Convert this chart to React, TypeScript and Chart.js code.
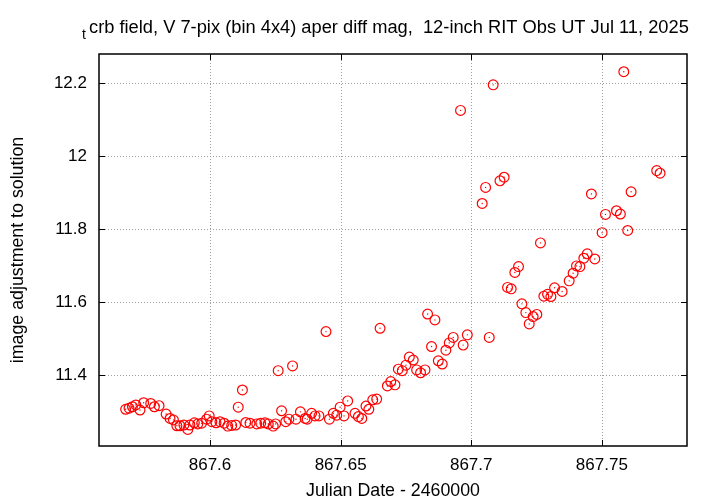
import React, { useEffect, useRef } from "react";
import { Chart, registerables } from "chart.js";

Chart.register(...registerables);

// Julian Date - 2460000
const JD = [
  867.5677, 867.5690, 867.5703, 867.5716, 867.5732, 867.5746, 867.5773, 867.5787, 867.5805, 867.5832,
  867.5847, 867.5860, 867.5873, 867.5885, 867.5900, 867.5915, 867.5923, 867.5940, 867.5953, 867.5968,
  867.5987, 867.5997, 867.6007, 867.6023, 867.6038, 867.6054, 867.6068, 867.6083, 867.6098, 867.6108,
  867.6124, 867.6137, 867.6153, 867.6179, 867.6194, 867.6210, 867.6223, 867.6242, 867.6251, 867.6261,
  867.6274, 867.6290, 867.6302, 867.6316, 867.6329, 867.6346, 867.6364, 867.6372, 867.6389, 867.6402,
  867.6417, 867.6444, 867.6457, 867.6472, 867.6485, 867.6498, 867.6513, 867.6527, 867.6555, 867.6568,
  867.6581, 867.6597, 867.6608, 867.6623, 867.6638, 867.6651, 867.6679, 867.6692, 867.6708, 867.6721,
  867.6736, 867.6750, 867.6763, 867.6778, 867.6791, 867.6806, 867.6823, 867.6833, 867.6848, 867.6861,
  867.6874, 867.6889, 867.6903, 867.6916, 867.6931, 867.6959, 867.6969, 867.6985, 867.7042, 867.7055,
  867.7069, 867.7084, 867.7110, 867.7126, 867.7139, 867.7153, 867.7167, 867.7181, 867.7194, 867.7209,
  867.7222, 867.7237, 867.7251, 867.7265, 867.7278, 867.7292, 867.7305, 867.7319, 867.7348, 867.7375,
  867.7390, 867.7403, 867.7416, 867.7431, 867.7444, 867.7460, 867.7473, 867.7501, 867.7514, 867.7556,
  867.7571, 867.7584, 867.7599, 867.7612, 867.7710, 867.7723,
];

// image adjustment to solution
const ADJ = [
  11.306, 11.309, 11.313, 11.318, 11.304, 11.324, 11.322, 11.313, 11.316, 11.293,
  11.281, 11.277, 11.261, 11.261, 11.263, 11.251, 11.263, 11.269, 11.266, 11.268,
  11.279, 11.288, 11.272, 11.269, 11.272, 11.268, 11.260, 11.262, 11.263, 11.312,
  11.359, 11.270, 11.268, 11.266, 11.268, 11.269, 11.266, 11.260, 11.266, 11.412,
  11.302, 11.272, 11.279, 11.425, 11.279, 11.299, 11.281, 11.279, 11.295, 11.288,
  11.288, 11.519, 11.279, 11.295, 11.290, 11.312, 11.288, 11.329, 11.295, 11.286,
  11.281, 11.315, 11.306, 11.332, 11.334, 11.528, 11.370, 11.382, 11.373, 11.416,
  11.412, 11.427, 11.449, 11.441, 11.414, 11.406, 11.414, 11.567, 11.478, 11.551,
  11.439, 11.430, 11.468, 11.488, 11.503, 12.125, 11.482, 11.510, 11.870, 11.914,
  11.503, 12.195, 11.932, 11.942, 11.640, 11.636, 11.681, 11.697, 11.595, 11.571,
  11.540, 11.560, 11.566, 11.762, 11.616, 11.621, 11.615, 11.639, 11.629, 11.658,
  11.679, 11.699, 11.697, 11.720, 11.732, 11.896, 11.718, 11.790, 11.840, 11.850,
  11.841, 12.231, 11.796, 11.902, 11.960, 11.953,
];

const X_TICKS = [867.6, 867.65, 867.7, 867.75];
const X_TICK_LABELS = ["867.6", "867.65", "867.7", "867.75"];
const Y_TICKS = [11.4, 11.6, 11.8, 12, 12.2];
const Y_TICK_LABELS = ["11.4", "11.6", "11.8", "12", "12.2"];
const X_MIN = 867.5575;
const X_MAX = 867.7826;
const Y_MIN = 11.2055;
const Y_MAX = 12.2795;

const TITLE_SUB = "t";
const TITLE_MAIN = "crb field, V 7-pix (bin 4x4) aper diff mag,  12-inch RIT Obs UT Jul 11, 2025";
const X_TITLE = "Julian Date - 2460000";
const Y_TITLE = "image adjustment to solution";

const FONT = '"Liberation Sans", Arial, Helvetica, sans-serif';

const framePlugin = {
  id: "gnuplotFrame",
  beforeDatasetsDraw(chart: any) {
    const { ctx, chartArea: a, scales } = chart;
    const xs = scales.x;
    const ys = scales.y;
    ctx.save();
    ctx.strokeStyle = "#a0a0a0";
    ctx.lineWidth = 1;
    ctx.setLineDash([1, 2]);
    X_TICKS.forEach((v) => {
      const px = Math.round(xs.getPixelForValue(v)) + 0.5;
      ctx.beginPath();
      ctx.moveTo(px, a.top);
      ctx.lineTo(px, a.bottom);
      ctx.stroke();
    });
    Y_TICKS.forEach((v) => {
      const py = Math.round(ys.getPixelForValue(v)) + 0.5;
      ctx.beginPath();
      ctx.moveTo(a.left, py);
      ctx.lineTo(a.right, py);
      ctx.stroke();
    });
    ctx.restore();
  },
  afterDatasetsDraw(chart: any) {
    const { ctx, chartArea: a, scales } = chart;
    const xs = scales.x;
    const ys = scales.y;
    const tl = 6;
    ctx.save();
    ctx.setLineDash([]);
    ctx.strokeStyle = "#000";
    ctx.lineWidth = 1;
    X_TICKS.forEach((v) => {
      const px = Math.round(xs.getPixelForValue(v)) + 0.5;
      ctx.beginPath();
      ctx.moveTo(px, a.bottom);
      ctx.lineTo(px, a.bottom - tl);
      ctx.moveTo(px, a.top);
      ctx.lineTo(px, a.top + tl);
      ctx.stroke();
    });
    Y_TICKS.forEach((v) => {
      const py = Math.round(ys.getPixelForValue(v)) + 0.5;
      ctx.beginPath();
      ctx.moveTo(a.left, py);
      ctx.lineTo(a.left + tl, py);
      ctx.moveTo(a.right, py);
      ctx.lineTo(a.right - tl, py);
      ctx.stroke();
    });
    ctx.lineWidth = 1.5;
    ctx.strokeRect(a.left, a.top, a.right - a.left, a.bottom - a.top);
    ctx.restore();
  },
  afterDraw(chart: any) {
    const { ctx, chartArea: a } = chart;
    ctx.save();
    ctx.fillStyle = "#000";
    // title with subscript
    ctx.textBaseline = "alphabetic";
    ctx.textAlign = "left";
    ctx.font = `14px ${FONT}`;
    ctx.fillText(TITLE_SUB, 82, 39);
    ctx.font = `18.3px ${FONT}`;
    ctx.fillText(TITLE_MAIN, 89, 33);
    // x title
    ctx.font = `17.8px ${FONT}`;
    ctx.textAlign = "center";
    ctx.textBaseline = "middle";
    ctx.fillText(X_TITLE, (a.left + a.right) / 2, 491);
    // y title
    ctx.translate(18, (a.top + a.bottom) / 2);
    ctx.rotate(-Math.PI / 2);
    ctx.fillText(Y_TITLE, 0, 0);
    ctx.restore();
  },
};

export default function App() {
  const ref = useRef<HTMLCanvasElement | null>(null);

  useEffect(() => {
    if (!ref.current) return;
    const points = JD.map((x, i) => ({ x, y: ADJ[i] }));
    const chart = new Chart(ref.current, {
      type: "scatter",
      data: {
        datasets: [
          {
            data: points,
            pointStyle: "circle",
            pointRadius: 4.9,
            borderColor: "#ff0000",
            borderWidth: 1.2,
            backgroundColor: "rgba(0,0,0,0)",
          },
          {
            data: points,
            pointStyle: "circle",
            pointRadius: 0.7,
            borderWidth: 0,
            backgroundColor: "#ff0000",
          },
        ],
      },
      options: {
        responsive: false,
        animation: false,
        events: [],
        layout: { padding: { left: 0, top: 54, right: 33, bottom: 0 } },
        plugins: {
          legend: { display: false },
          tooltip: { enabled: false },
          title: { display: false },
        },
        scales: {
          x: {
            type: "linear",
            min: X_MIN,
            max: X_MAX,
            grid: { display: false, drawTicks: false },
            border: { display: false },
            afterBuildTicks: (s: any) => {
              s.ticks = X_TICKS.map((v) => ({ value: v }));
            },
            afterFit: (s: any) => {
              s.height = 58;
            },
            ticks: {
              autoSkip: false,
              maxRotation: 0,
              padding: 9,
              color: "#000",
              font: { family: FONT, size: 17 },
              callback: (_v: any, i: number) => X_TICK_LABELS[i],
            },
          },
          y: {
            type: "linear",
            min: Y_MIN,
            max: Y_MAX,
            grid: { display: false, drawTicks: false },
            border: { display: false },
            afterBuildTicks: (s: any) => {
              s.ticks = Y_TICKS.map((v) => ({ value: v }));
            },
            afterFit: (s: any) => {
              s.width = 99;
            },
            ticks: {
              autoSkip: false,
              padding: 12,
              color: "#000",
              font: { family: FONT, size: 17 },
              callback: (_v: any, i: number) => Y_TICK_LABELS[i],
            },
          },
        },
      },
      plugins: [framePlugin],
    });
    return () => chart.destroy();
  }, []);

  return (
    <div style={{ position: "absolute", left: 0, top: 0, width: 720, height: 504, background: "#fff" }}>
      <canvas ref={ref} width={720} height={504} style={{ width: 720, height: 504, display: "block" }} />
    </div>
  );
}
